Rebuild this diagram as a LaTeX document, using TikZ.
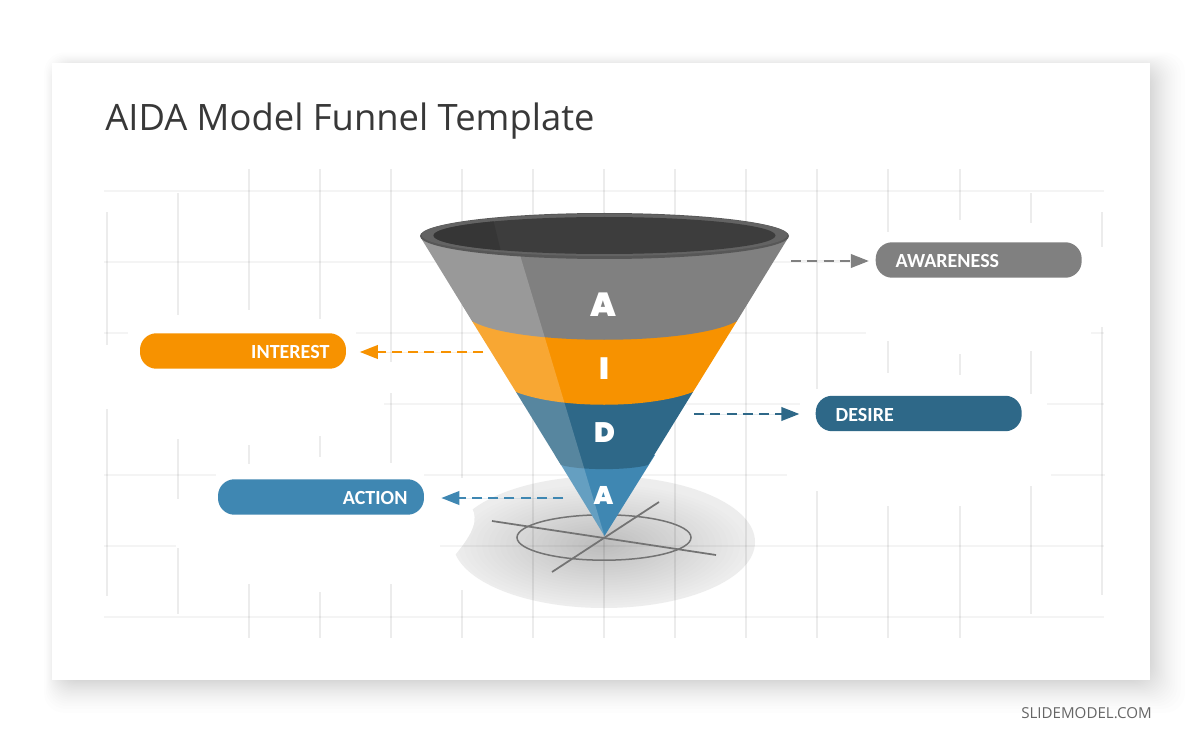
\documentclass[tikz,border=0pt]{standalone}
\usepackage{fontspec}
\setmainfont{Open Sans}
\newfontfamily\labelfont{Carlito}
\newfontfamily\letterfont{Poppins Black}
\usetikzlibrary{arrows.meta}
\definecolor{awarenessgray}{HTML}{808080}
\definecolor{interestorange}{HTML}{F79200}
\definecolor{desireblue}{HTML}{2E6888}
\definecolor{actionblue}{HTML}{3F87B2}
\tikzset{
    pill/.style={rounded corners=0.33cm, minimum height=0.71cm, inner ysep=0pt, text height=0.31cm, text depth=0pt,
        text=white, font=\labelfont\bfseries\fontsize{11.4}{12}\selectfont},
    leftpill/.style={pill, inner xsep=0.4cm, text width=3.32cm, align=left},
    rightpill/.style={pill, inner xsep=0.33cm, text width=3.46cm, align=right},
    funnelletter/.style={text=white, inner sep=0pt, font=\letterfont},
    flowline/.style={dash pattern=on 0.2cm off 0.125cm, line width=0.045cm,
        -{Triangle[length=0.36cm, width=0.27cm]}},
    gridv/.style={black, opacity=0.075, line width=0.03cm},
    gridh/.style={black, opacity=0.045, line width=0.03cm},
    floorline/.style={draw=black!55, line width=0.03cm}
}
\begin{document}
\begin{tikzpicture}[x=0.02cm, y=-0.02cm]
    \useasboundingbox (0,0) rectangle (1200,743);
    \fill[white] (0,0) rectangle (1200,743);
    \foreach \i in {1,...,24} {
        \pgfmathsetmacro{\spread}{1-sqrt(\i/24)}
        \fill[black, opacity=0.0075, rounded corners=0.4cm] ({60-20*\spread},{70-22*\spread}) rectangle ({1146+49*\spread},{677+45*\spread});
    }
    \fill[white] (52,63) rectangle (1150,680);

    \fill[black!7] (604,542) ellipse [x radius=151, y radius=66];
    \foreach \i in {1,...,24} {
        \pgfmathsetmacro{\shrink}{1-\i/25}
        \fill[black, opacity=0.0065] (602,545) ellipse [x radius={150*\shrink}, y radius={63*\shrink}];
    }
    \fill[white] (440,500) -- (472,508) .. controls (478,520) and (474,532) .. (455,555) -- (440,565) -- cycle;

    \foreach \px/\ya/\yb in {107/212/345, 107/409/596, 178/193/315, 178/439/499, 178/548/614,
        249/169/310, 249/445/464, 249/584/638, 320/169/319, 320/436/457, 320/592/638,
        391/169/362, 391/393/463, 391/584/638, 462/169/478, 462/590/638,
        533/169/638, 604/169/638, 675/169/638, 746/169/638,
        817/169/389, 817/491/638, 888/169/232, 888/341/373, 888/506/638,
        960/169/220, 960/354/375, 960/506/638, 1031/193/223, 1031/351/394, 1031/486/614,
        1102/212/247, 1102/327/595}
        \draw[gridv] (\px,\ya) -- (\px,\yb);
    \foreach \py/\xa/\xb in {191/104/1104, 262/104/860, 333/104/128, 333/356/866, 333/1091/1104,
        404/384/800, 404/1047/1104, 475/104/216, 475/424/787, 475/1051/1105,
        546/104/176, 546/440/1104, 617/104/1104}
        \draw[gridh] (\xa,\py) -- (\xb,\py);

    \draw[floorline] (604,537.5) ellipse [x radius=87, y radius=22.7];
    \draw[floorline, line width=0.035cm] (492,521) -- (716,555);
    \draw[floorline, line width=0.035cm] (659,502) -- (552,572);

    \fill[actionblue] (555,455) -- (604.5,536) -- (655,455) -- cycle;
    \fill[desireblue] (516,392) -- (561,465) .. controls (580,470.5) and (628,470.5) .. (648,465)
        -- (693,392) -- cycle;
    \fill[interestorange] (472,321) -- (516,392) .. controls (560,409) and (648,409) .. (693,392)
        -- (737,321) -- cycle;
    \fill[awarenessgray] (421,238) -- (472,321) .. controls (515,346) and (693,346) .. (737,321)
        -- (788,238) -- cycle;
    \fill[white, opacity=0.2] (421,238) -- (604.5,536) -- (517,245) -- cycle;

    \fill[black!66] (604.5,236) ellipse [x radius=184.5, y radius=23];
    \fill[black!61] (604.5,235) ellipse [x radius=183, y radius=21];
    \fill[black!76] (604.5,235.5) ellipse [x radius=171, y radius=18.5];
    \begin{scope}
        \clip (604.5,235.5) ellipse [x radius=171, y radius=18.5];
        \fill[black!79] (430,215) -- (492,215) -- (502,256) -- (430,256) -- cycle;
    \end{scope}

    \node[funnelletter, font=\letterfont\fontsize{19}{19}\selectfont] (letterA) at (603,305) {A};
    \node[funnelletter, font=\letterfont\fontsize{17.5}{18}\selectfont] (letterI) at (604,369) {I};
    \node[funnelletter, font=\letterfont\fontsize{16}{16}\selectfont] (letterD) at (605,433) {D};
    \node[funnelletter, font=\letterfont\fontsize{14.5}{15}\selectfont] (letterB) at (603.5,495.5) {A};

    \node[leftpill, fill=awarenessgray] (awareness) at (978.7,260) {AWARENESS};
    \node[rightpill, fill=interestorange] (interest) at (243,351) {INTEREST};
    \node[leftpill, fill=desireblue] (desire) at (918.7,413.5) {DESIRE};
    \node[rightpill, fill=actionblue] (action) at (321,497) {ACTION};

    \coordinate (awarenessout) at (791,261);
    \coordinate (interestout) at (483,352);
    \coordinate (desireout) at (694,414);
    \coordinate (actionout) at (563,498);

    \draw[flowline, draw=awarenessgray, fill=awarenessgray, shorten >=0.13cm] (awarenessout) -- (awareness.west |- awarenessout);
    \draw[flowline, draw=interestorange, fill=interestorange, shorten >=0.27cm] (interestout) -- (interest.east |- interestout);
    \draw[flowline, draw=desireblue, fill=desireblue, shorten >=0.32cm] (desireout) -- (desire.west |- desireout);
    \draw[flowline, draw=actionblue, fill=actionblue, shorten >=0.34cm] (actionout) -- (action.east |- actionout);

    \node[anchor=west, inner sep=0pt, text=black!78, font=\fontsize{20.7}{24}\selectfont] (title) at (105,121) {AIDA Model Funnel Template};
    \node[anchor=east, inner sep=0pt, text=black!60, font=\fontsize{8.6}{10}\selectfont] (brand) at (1152,713) {SLIDEMODEL.COM};
\end{tikzpicture}
\end{document}
